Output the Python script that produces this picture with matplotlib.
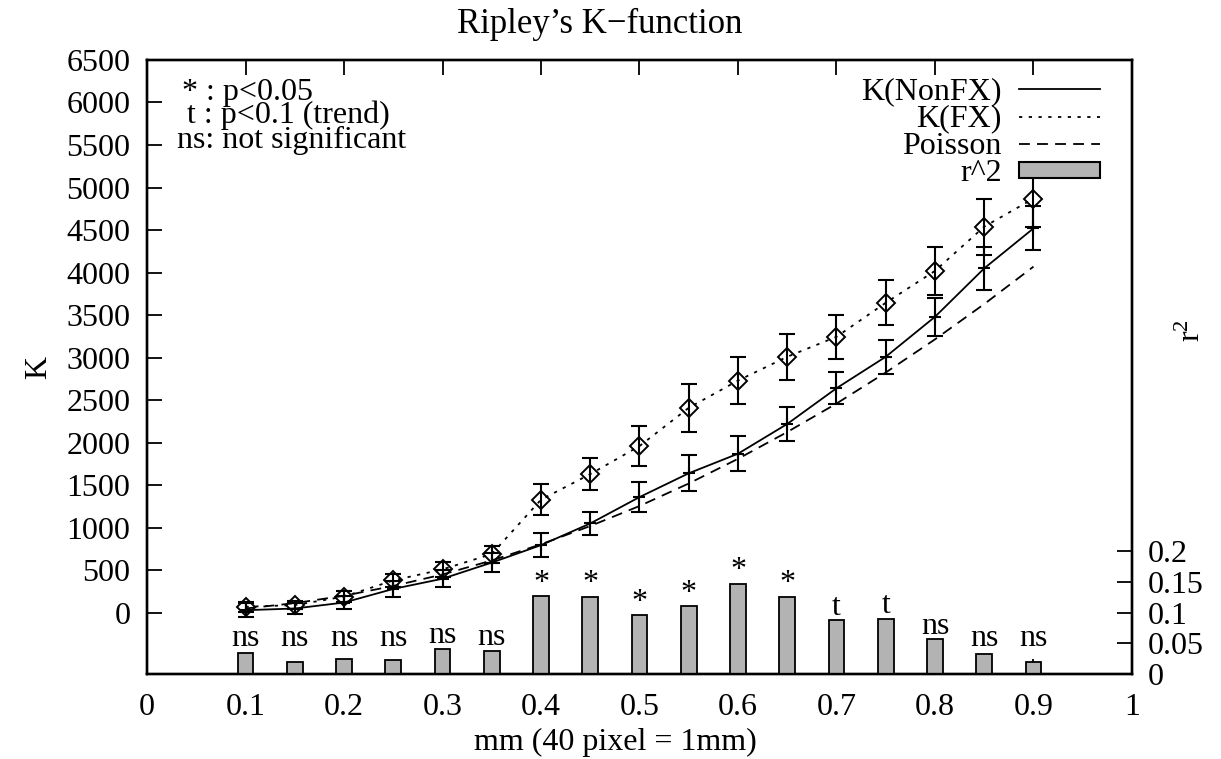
import matplotlib
matplotlib.use("Agg")
import matplotlib.pyplot as plt
from matplotlib.lines import Line2D
from matplotlib.patches import Patch

plt.rcParams["font.family"] = ["Liberation Serif", "DejaVu Serif"]
plt.rcParams["mathtext.fontset"] = "custom"
plt.rcParams["mathtext.rm"] = "Liberation Serif"

# ── Data ──────────────────────────────────────────────────────────────────────
dist_mm = [0.1, 0.15, 0.2, 0.25, 0.3, 0.35, 0.4, 0.45, 0.5,
           0.55, 0.6, 0.65, 0.7, 0.75, 0.8, 0.85, 0.9]
k_nonfx = [30, 50, 120, 280, 400, 590, 795, 1050, 1360,
           1640, 1870, 2220, 2640, 3010, 3480, 4050, 4520]
k_nonfx_err = [80, 70, 80, 90, 100, 110, 140, 140, 180,
               210, 205, 200, 190, 200, 220, 250, 260]
k_fx = [70, 90, 190, 380, 510, 690, 1330, 1630, 1960,
        2410, 2730, 3010, 3245, 3645, 4020, 4540, 4870]
k_fx_err = [60, 50, 60, 80, 90, 100, 180, 190, 240,
            285, 275, 272, 260, 265, 285, 330, 330]
k_poisson = [50, 113, 200, 315, 450, 615, 805, 1020, 1255,
             1520, 1810, 2125, 2460, 2825, 3215, 3630, 4070]
r2 = [0.035, 0.019, 0.025, 0.022, 0.041, 0.038, 0.127, 0.126, 0.096,
      0.110, 0.147, 0.126, 0.088, 0.090, 0.057, 0.032, 0.019]
signif = ["ns", "ns", "ns", "ns", "ns", "ns", "*", "*", "*",
          "*", "*", "*", "t", "t", "ns", "ns", "ns"]

x_ticks = [0, 0.1, 0.2, 0.3, 0.4, 0.5, 0.6, 0.7, 0.8, 0.9, 1]
x_ticklabels = ["0", "0.1", "0.2", "0.3", "0.4", "0.5", "0.6", "0.7", "0.8", "0.9", "1"]
k_ticks = list(range(0, 6501, 500))
r2_ticks = [0, 0.05, 0.1, 0.15, 0.2]
r2_ticklabels = ["0", "0.05", "0.1", "0.15", "0.2"]

FS = 23
DOT = (0, (1.8, 3.6))
DASH = (0, (6, 4))

# ── Figure ────────────────────────────────────────────────────────────────────
fig = plt.figure(figsize=(12.21, 7.59), dpi=100)
ax = fig.add_axes([0.1204, 0.112, 0.8067, 0.809])
ax2 = ax.twinx()

# K curves
ax.plot(dist_mm, k_nonfx, color="k", lw=1.3, ls="-")
ax.plot(dist_mm, k_fx, color="k", lw=1.3, ls=DOT)
ax.plot(dist_mm, k_poisson, color="k", lw=1.3, ls=DASH)

ax.errorbar(dist_mm, k_nonfx, yerr=k_nonfx_err, fmt="none", ecolor="k",
            elinewidth=1.5, capsize=5.8, capthick=1.5)
ax.errorbar(dist_mm, k_fx, yerr=k_fx_err, fmt="none", ecolor="k",
            elinewidth=1.5, capsize=5.8, capthick=1.5)
ax.plot(dist_mm, k_nonfx, ls="none", marker="+", ms=9, mew=1.5, color="k")
ax.plot(dist_mm, k_fx, ls="none", marker="D", ms=9, mew=1.4, mfc="none", mec="k")

ax.set_xlim(0, 1)
ax.set_ylim(-720, 6500)
ax.set_xticks(x_ticks)
ax.set_xticklabels(x_ticklabels)
ax.set_yticks(k_ticks)
ax.tick_params(axis="both", direction="in", length=11, width=1.3, labelsize=FS,
               top=True, pad=14)
ax.tick_params(axis="y", pad=12)

# r^2 bars
ax2.bar(dist_mm, r2, width=0.016, color="#b3b3b3", edgecolor="k", linewidth=1.3)
for xi, v, s in zip(dist_mm, r2, signif):
    ax2.text(xi, max(v, 0.037) + 0.021, s, ha="center", va="center", fontsize=FS)
ax2.set_ylim(0, 1.0)
ax2.set_yticks(r2_ticks)
ax2.set_yticklabels(r2_ticklabels)
ax2.tick_params(axis="y", direction="in", length=11, width=1.3, labelsize=FS, pad=11)

for a in (ax, ax2):
    for sp in a.spines.values():
        sp.set_linewidth(1.7)

fig.text(600 / 1221, 1 - 33 / 759, "Ripley\u2019s K\u2212function", fontsize=25,
         ha="center", va="baseline")
ax.set_xlabel("mm (40 pixel = 1mm)", fontsize=FS)
ax.xaxis.set_label_coords(0.476, -0.088)
ax.set_ylabel("K", fontsize=FS)
ax.yaxis.set_label_coords(-0.095, 0.5)
ax2.set_ylabel(r"$\mathregular{r^2}$", fontsize=FS)
ax2.yaxis.set_label_coords(1.047, 0.56)

# significance key
ax.text(0.0355, 0.935, "* : p<0.05", transform=ax.transAxes, fontsize=FS, va="baseline")
ax.text(0.0406, 0.897, "t : p<0.1 (trend)", transform=ax.transAxes, fontsize=FS, va="baseline")
ax.text(0.0305, 0.856, "ns: not significant", transform=ax.transAxes, fontsize=FS, va="baseline")

handles = [
    Line2D([], [], color="k", lw=1.3, ls="-"),
    Line2D([], [], color="k", lw=1.3, ls=DOT),
    Line2D([], [], color="k", lw=1.3, ls=DASH),
    Patch(facecolor="#b3b3b3", edgecolor="k", linewidth=1.5),
]
labels = ["K(NonFX)", "K(FX)", "Poisson", "r^2"]
leg = ax2.legend(handles, labels, loc="upper right", bbox_to_anchor=(0.9675, 0.972),
                 frameon=False, markerfirst=False, fontsize=FS, handlelength=2.54,
                 handleheight=0.42, handletextpad=0.53, labelspacing=-0.05,
                 borderaxespad=0, borderpad=0)
for t in leg.get_texts():
    t.set_ha("right")

fig.savefig("out.png", dpi=100)
